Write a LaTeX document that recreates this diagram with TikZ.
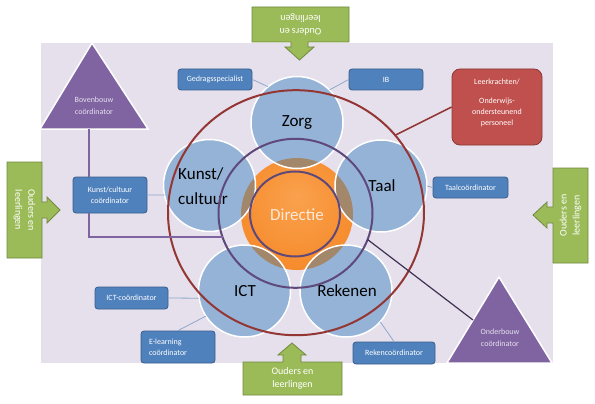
\documentclass[tikz,border=0pt]{standalone}
\usepackage{fontspec}
\setmainfont{Carlito}
\usetikzlibrary{shapes.geometric,calc}
\definecolor{bgc}{HTML}{E5E0EC}
\definecolor{petalc}{HTML}{95B3D7}
\definecolor{boxblue}{HTML}{4F81BD}
\definecolor{boxborder}{HTML}{385D8A}
\definecolor{redfill}{HTML}{C0504D}
\definecolor{redborder}{HTML}{8C3836}
\definecolor{greenfill}{HTML}{9BBB59}
\definecolor{greenborder}{HTML}{71893F}
\definecolor{tric}{HTML}{8064A2}
\definecolor{ringred}{HTML}{943634}
\definecolor{ringpurple}{HTML}{5F497A}
\definecolor{linkblue}{HTML}{8EA8CC}
\definecolor{brownov}{HTML}{A3876A}
\definecolor{orangein}{HTML}{FAA24E}
\definecolor{orangemid}{HTML}{F68B2C}
\definecolor{orangeout}{HTML}{E4700E}
\definecolor{dirtext}{HTML}{FDE9D9}
\definecolor{darkline}{HTML}{3F3151}
\pgfdeclareradialshading{orb}{\pgfpoint{0bp}{8bp}}{color(0bp)=(orangein); color(28bp)=(orangemid); color(50bp)=(orangeout)}
\begin{document}
\begin{tikzpicture}[x=1pt,y=-1pt,
  bluebox/.style={draw=boxborder, line width=0.8pt, fill=boxblue, rounded corners=3pt, text=white, font=\fontsize{8}{11}\selectfont, inner sep=1pt, align=center},
  redbox/.style={draw=redborder, line width=0.8pt, fill=redfill, rounded corners=8pt, inner sep=0pt},
  redtext/.style={text=white, font=\fontsize{8}{11}\selectfont, align=center, inner sep=0pt},
  petal/.style={circle, minimum size=92pt, inner sep=0pt, fill=petalc},
  petaltext/.style={font=\fontsize{17}{25}\selectfont, text=black, inner sep=0pt},
  ring/.style={ellipse, inner sep=0pt, outer sep=0pt, line width=2pt},
  link/.style={draw=linkblue, line width=0.8pt},
  greenarrow/.style={fill=greenfill, draw=greenborder, line width=0.8pt, line join=miter},
  greentext/.style={text=white, font=\fontsize{10}{13}\selectfont, align=center, inner sep=0pt},
  trishape/.style={fill=tric, draw=white, line width=1.5pt, line join=miter},
  tritext/.style={text=bgc, font=\fontsize{8}{12}\selectfont, align=center, inner sep=0pt},
  purpleline/.style={draw=tric, line width=1.2pt},
]
\useasboundingbox (0,0) rectangle (595,404);
% background
\fill[bgc] (41,43) rectangle (553,363);

% green arrows
\draw[greenarrow] (252,7) -- (349,7) -- (349,42) -- (308,42) -- (308,47) -- (314,47) -- (299.5,60) -- (285,47) -- (291,47) -- (291,42) -- (252,42) -- cycle;
\node[greentext, rotate=180] (ouderstop) at (300.5,24.5) {Ouders en\\leerlingen};
\draw[greenarrow] (7,162) -- (42,162) -- (42,202) -- (47,202) -- (47,197) -- (60,210) -- (47,223) -- (47,218) -- (42,218) -- (42,258) -- (7,258) -- cycle;
\node[greentext, rotate=-90] (oudersleft) at (24.5,210) {Ouders en\\leerlingen};
\draw[greenarrow] (588,168) -- (588,263) -- (553,263) -- (553,223) -- (547,223) -- (547,228) -- (533,215) -- (547,202) -- (547,207) -- (553,207) -- (553,168) -- cycle;
\node[greentext, rotate=90] (oudersright) at (570.5,215.5) {Ouders en\\leerlingen};
\draw[greenarrow] (243,395) -- (342,395) -- (342,362) -- (301,362) -- (301,355) -- (306,355) -- (292,343) -- (278,355) -- (283,355) -- (283,362) -- (243,362) -- cycle;
\node[greentext] (oudersbottom) at (292.5,378.5) {Ouders en\\leerlingen};

% triangles
\draw[trishape] (92,43) -- (148,129) -- (40,129) -- cycle;
\node[tritext] (bovt) at (94,106) {Bovenbouw\\coördinator};
\coordinate (bovbase) at (89,129);
\draw[trishape] (499,277) -- (552,363) -- (447,363) -- cycle;
\node[tritext] (ondt) at (500,338) {Onderbouw\\coördinator};
\coordinate (ondside) at (473,320);

% boxes
\node[bluebox, minimum width=74pt, minimum height=21pt] (gedrag) at (215,79.5) {Gedragsspecialist};
\node[bluebox, minimum width=74pt, minimum height=21pt] (ib) at (386,79.5) {IB};
\node[redbox, minimum width=90pt, minimum height=76pt] (leer) at (497,107) {};
\node[redtext] (leert) at (497,103) {Leerkrachten/\\[8pt]Onderwijs-\\ondersteunend\\personeel};
\node[bluebox, minimum width=75pt, minimum height=21pt] (taalc) at (470.5,187.5) {Taalcoördinator};
\node[bluebox, minimum width=74pt, minimum height=36pt] (kunstc) at (110,195) {Kunst/cultuur\\coördinator};
\node[bluebox, minimum width=73pt, minimum height=22pt] (ictc) at (131.5,298) {ICT-coördinator};
\node[bluebox, minimum width=74pt, minimum height=32pt, text width=58pt, inner xsep=8pt, align=left] (elearn) at (178,347) {E-learning\\coördinator};
\node[bluebox, minimum width=82pt, minimum height=22pt] (rekenc) at (394,353) {Rekencoördinator};

% directie + petals
\node[circle, minimum size=112pt, inner sep=0pt, shading=orb] (dir) at (297,214) {};
\node[petal] (zorg) at (297,122.5) {};
\node[petal] (kunst) at (209.5,185.5) {};
\node[petal] (taal) at (381,186) {};
\node[petal] (ict) at (244.5,291) {};
\node[petal] (reken) at (346,291) {};
\begin{scope}
  \clip (dir.center) circle[radius=56pt];
  \foreach \p in {zorg,kunst,taal,ict,reken} \fill[brownov] (\p.center) circle[radius=46pt];
\end{scope}
\foreach \p in {zorg,kunst,taal,ict,reken} \draw[white, line width=1.5pt] (\p.center) circle[radius=46pt];

% texts
\node[petaltext] (zorgt) at (297,123) {Zorg};
\node[petaltext, align=left] (kunstt) at (203,186) {Kunst/\\cultuur};
\node[petaltext] (taalt) at (382,186) {Taal};
\node[petaltext] (ictt) at (245,291) {ICT};
\node[petaltext] (rekent) at (347,291) {Rekenen};
\node[font=\fontsize{17}{20}\selectfont, text=dirtext, inner sep=0pt] (dirt) at (297,215) {Directie};

% rings
\node[ring, draw=ringred, minimum width=256pt, minimum height=245pt] (outer) at (296,212.7) {};
\node[ring, draw=ringpurple, minimum width=154pt, minimum height=149pt] (mid) at (295.5,213.3) {};
\node[ring, draw=ringpurple, minimum width=90pt, minimum height=85pt] (inner) at (295,214) {};

% connectors
\draw[link] (gedrag.east) -- (zorg.129);
\draw[link] (ib.west) -- (zorg.45);
\draw[link] (taalc.west) -- (taal.east);
\draw[link] (kunstc.east) -- (kunst.192);
\draw[link] (ictc.east) -- (ict.189);
\draw[link] (elearn.north) -- (ict.213);
\draw[link] (rekenc.north) -- (reken.-42);
\draw[purpleline] (bovbase) -- (bovbase |- kunstc.north);
\draw[purpleline] (bovbase |- kunstc.south) |- (mid.198);
\draw[draw=darkline, line width=1.2pt] (ondside) -- (mid.-20);
\draw[draw=ringred, line width=1.5pt] (leer.west) -- (outer.38);
\end{tikzpicture}
\end{document}
